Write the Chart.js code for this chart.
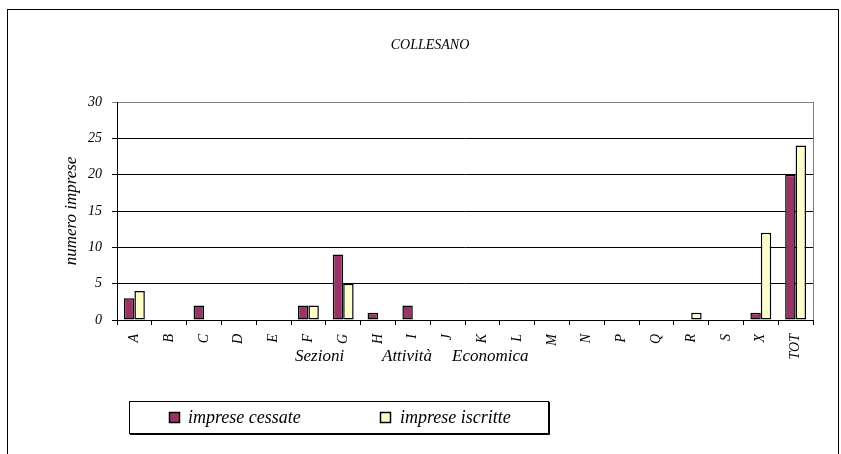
<!DOCTYPE html>
<html>
<head>
<meta charset="utf-8">
<script src="https://cdn.jsdelivr.net/npm/chart.js@4.4.1/dist/chart.umd.min.js"></script>
<style>
  html, body { margin: 0; padding: 0; background: #fff; }
  #wrap { position: relative; width: 841px; height: 454px; overflow: hidden; }
  #frame { position: absolute; left: 7px; top: 9px; width: 832px; height: 470px; border: 1px solid #000; box-sizing: border-box; }
  #chart { position: absolute; left: 0; top: 0; }
</style>
</head>
<body>
<div id="wrap">
  <div id="frame"></div>
  <canvas id="chart" width="841" height="454"></canvas>
</div>
<script>
const chartTitle = "COLLESANO"
const yTitle = "numero imprese"
const xTitleWords = ["Sezioni", "Attività", "Economica"]

const sections = ["A", "B", "C", "D", "E", "F", "G", "H", "I", "J", "K", "L", "M", "N", "P", "Q", "R", "S", "X", "TOT"]
const cessate  = [3, 0, 2, 0, 0, 2, 9, 1, 2, 0, 0, 0, 0, 0, 0, 0, 0, 0, 1, 20]
const iscritte = [4, 0, 0, 0, 0, 2, 5, 0, 0, 0, 0, 0, 0, 0, 0, 0, 1, 0, 12, 24]
const yTicks = [0, 5, 10, 15, 20, 25, 30]

const serif = '"Liberation Serif", "Times New Roman", serif'

// titles, legend box and the grey right edge of the plot area
const decor = {
  id: "decor",
  afterDraw(chart) {
    const { ctx, chartArea: a } = chart
    ctx.save()

    ctx.strokeStyle = "#808080"
    ctx.lineWidth = 1
    ctx.beginPath()
    ctx.moveTo(Math.round(a.right) + 0.5, a.top)
    ctx.lineTo(Math.round(a.right) + 0.5, a.bottom)
    ctx.stroke()

    ctx.fillStyle = "#000"
    ctx.textBaseline = "middle"

    ctx.font = "italic 14px " + serif
    ctx.textAlign = "center"
    ctx.fillText(chartTitle, 430, 45)

    ctx.font = "italic 17px " + serif
    ctx.textAlign = "left"
    ctx.fillText(xTitleWords[0], 295, 357)
    ctx.fillText(xTitleWords[1], 382, 357)
    ctx.fillText(xTitleWords[2], 452, 357)

    ctx.save()
    ctx.translate(72, (a.top + a.bottom) / 2)
    ctx.rotate(-Math.PI / 2)
    ctx.textAlign = "center"
    ctx.fillText(yTitle, 0, 0)
    ctx.restore()

    // legend
    ctx.strokeStyle = "#000"
    ctx.lineWidth = 1
    ctx.strokeRect(129.5, 401.5, 419, 32)
    ctx.beginPath()
    ctx.moveTo(549.5, 402); ctx.lineTo(549.5, 434.5); ctx.lineTo(130, 434.5)
    ctx.stroke()

    const items = [[169, 188], [380, 400]]
    chart.data.datasets.forEach((ds, i) => {
      const [bx, tx] = items[i]
      ctx.fillStyle = ds.backgroundColor
      ctx.fillRect(bx, 412, 11, 11)
      ctx.strokeStyle = "#000"
      ctx.lineWidth = 1.5
      ctx.strokeRect(bx + 0.5, 412.5, 10, 10)
      ctx.fillStyle = "#000"
      ctx.font = "italic 18px " + serif
      ctx.textAlign = "left"
      ctx.fillText(ds.label, tx, 418)
    })

    ctx.restore()
  }
}

new Chart(document.getElementById("chart"), {
  type: "bar",
  data: {
    labels: sections,
    datasets: [
      { label: "imprese cessate", data: cessate, backgroundColor: "#993366", borderColor: "#000",
        borderWidth: c => (c.raw ? 1.5 : 0), borderSkipped: false, categoryPercentage: 0.6, barPercentage: 1 },
      { label: "imprese iscritte", data: iscritte, backgroundColor: "#FFFFCC", borderColor: "#000",
        borderWidth: c => (c.raw ? 1.5 : 0), borderSkipped: false, categoryPercentage: 0.6, barPercentage: 1 }
    ]
  },
  options: {
    responsive: false,
    animation: false,
    layout: { padding: { left: 0, top: 102, right: 28, bottom: 0 } },
    plugins: { legend: { display: false }, title: { display: false }, tooltip: { enabled: false } },
    scales: {
      x: {
        afterFit: s => { s.height = 134 },
        grid: { drawOnChartArea: false, drawTicks: true, tickLength: 5, color: "#000" },
        border: { display: true, color: "#000", width: 1 },
        ticks: { autoSkip: false, minRotation: 90, maxRotation: 90, padding: 9, color: "#000",
          font: { family: serif, style: "italic", size: 14 } }
      },
      y: {
        min: 0, max: 30,
        afterFit: s => { s.width = 117 },
        afterBuildTicks: s => { s.ticks = yTicks.map(v => ({ value: v })) },
        grid: { color: c => (c.tick && c.tick.value === 30 ? "#808080" : "#000"), tickLength: 5, drawTicks: true },
        border: { display: true, color: "#000", width: 1 },
        ticks: { padding: 10, color: "#000", font: { family: serif, style: "italic", size: 14 } }
      }
    }
  },
  plugins: [decor]
})
</script>
</body>
</html>
